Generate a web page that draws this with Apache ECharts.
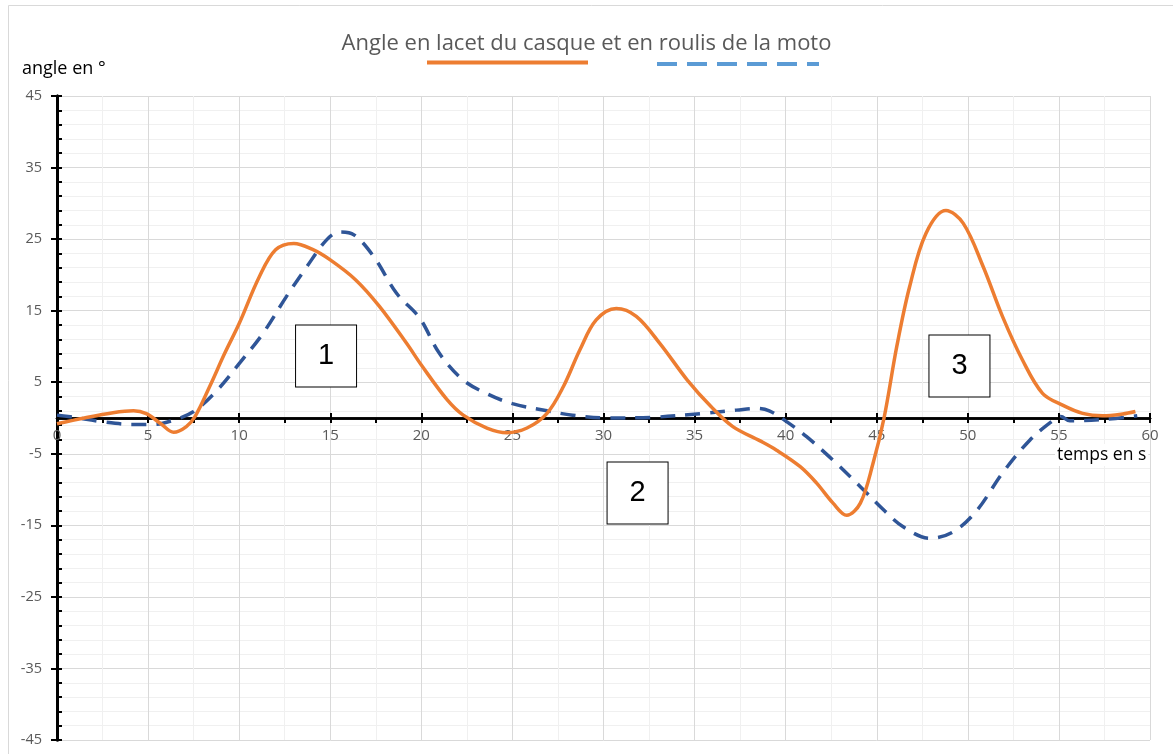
<!DOCTYPE html>
<html>
<head>
<meta charset="utf-8">
<script src="https://cdn.jsdelivr.net/npm/echarts@6/dist/echarts.min.js"></script>
<style>
html,body{margin:0;padding:0;background:#fff;}
#chart{width:1173px;height:754px;}
</style>
</head>
<body>
<div id="chart"></div>
<script>
// ---- data ----
const titleText = 'Angle en lacet du casque et en roulis de la moto';
const yAxisName = 'angle en °';
const xAxisName = 'temps en s';
const seriesNames = ['Lacet casque', 'Roulis moto'];

const lacetX = [0,1.5,3,4.2,4.9,5.7,6.4,7.1,7.6,8.4,9.2,10,11.1,12,13,14,15,16.4,17.7,19.2,20,21.4,22.3,23.6,24.7,25.8,26.9,27.8,28.7,29.6,30.7,31.8,33.1,34.6,35.9,37.1,38.6,39.5,40.8,41.7,42.6,43.35,44.1,44.8,45.4,46.1,46.8,47.7,48.8,49.75,50.85,51.9,53,54.1,55.2,56.3,57.4,58.5,59.2];
const lacetY = [-0.8,0,0.7,1.0,0.6,-0.8,-2.0,-1.2,0.3,4.5,9,13.2,19.7,23.5,24.4,23.6,22.1,19.3,15.6,10.4,7.4,2.6,0.4,-1.4,-2.05,-1.4,0.65,4.4,9.5,13.7,15.3,14.2,10.4,5.3,1.6,-1.2,-3.2,-4.5,-6.8,-9.1,-11.9,-13.6,-11.9,-6.3,0,10,18.3,25.8,29,27.2,21.1,14.2,8.1,3.45,1.8,0.65,0.3,0.55,0.9];

const roulisX = [0,1.2,2.4,4.2,5.3,6.4,7.5,8.8,10,11.3,12.6,13.7,14.8,15.5,16.3,17.4,18.65,19.9,21,22.3,23.6,25,26.9,28.3,30.2,32.7,35.5,37.3,38.4,39.1,40.05,41.15,42.6,44.1,45.4,46.45,47.9,49.2,50.5,51.9,53.4,54.7,55.1,55.6,57.5,59.3];
const roulisY = [0.4,0,-0.5,-0.9,-0.9,-0.3,0.9,3.9,7.6,11.8,17,21.1,24.9,26,25.6,22.5,17.4,14,9,5.3,3.4,2,1,0.4,0,0.1,0.65,1.1,1.35,1.0,-0.5,-2.6,-5.9,-9.6,-12.9,-15.2,-16.8,-15.9,-12.9,-7.7,-3.1,-0.3,0.2,-0.4,-0.2,0.3];

const boxLabels = ['1','2','3'];
const boxX = [14.77, 31.87, 49.54];
const boxY = [8.66, -10.48, 7.27];

const xMin = 0, xMax = 60, xStep = 5;
const yMin = -45, yMax = 45, yStep = 10;

// ---- build ----
const pair = (xs, ys) => xs.map((x, i) => [x, ys[i]]);
const chart = echarts.init(document.getElementById('chart'), null, {renderer: 'canvas'});
const font = 'Open Sans';
const gridTop = 96, gridBottom = 14, chartH = 754;
const plotH = chartH - gridTop - gridBottom;
// place the x axis on the value 0 of the y scale
const zeroOffset = -plotH * (0 - yMin) / (yMax - yMin);
const baseX = {
  type: 'value', min: xMin, max: xMax, interval: xStep, position: 'bottom',
  offset: zeroOffset,
  axisLine: {show: true, onZero: false, lineStyle: {color: '#000', width: 2.5}}
};
const baseY = {
  type: 'value', min: yMin, max: yMax, interval: yStep, position: 'left',
  axisLine: {show: true, onZero: false, lineStyle: {color: '#000', width: 3}}
};
const option = {
  animation: false,
  backgroundColor: '#fff',
  title: {
    text: titleText, left: 'center', top: 28,
    textStyle: {color: '#595959', fontSize: 22, fontWeight: 'normal', fontFamily: font}
  },
  grid: {left: 57, right: 23, top: gridTop, bottom: gridBottom, containLabel: false, outerBoundsMode: 'none'},
  xAxis: [
    Object.assign({}, baseX, {
      axisTick: {show: true, inside: false, length: 5, lineStyle: {color: '#000', width: 2}},
      minorTick: {show: true, splitNumber: 2, length: 5, lineStyle: {color: '#000', width: 2}},
      axisLabel: {show: true, color: '#595959', fontSize: 15, margin: 10, fontFamily: font},
      splitLine: {show: true, lineStyle: {color: '#D9D9D9', width: 1}},
      minorSplitLine: {show: true, lineStyle: {color: '#F0F0F0', width: 1}}
    }),
    Object.assign({}, baseX, {
      axisTick: {show: true, inside: true, length: 5, lineStyle: {color: '#000', width: 2}},
      axisLabel: {show: false}, splitLine: {show: false}
    })
  ],
  yAxis: [
    Object.assign({}, baseY, {
      axisTick: {show: true, inside: true, length: 5, lineStyle: {color: '#000', width: 2}},
      minorTick: {show: true, splitNumber: 5, length: 5, lineStyle: {color: '#000', width: 2}},
      axisLabel: {show: true, color: '#595959', fontSize: 14.5, margin: 15, fontFamily: font},
      splitLine: {show: true, lineStyle: {color: '#D9D9D9', width: 1}},
      minorSplitLine: {show: true, lineStyle: {color: '#F0F0F0', width: 1}}
    }),
    Object.assign({}, baseY, {
      axisTick: {show: true, inside: false, length: 6, lineStyle: {color: '#000', width: 2}},
      axisLabel: {show: false}, splitLine: {show: false}
    })
  ],
  series: [
    {
      name: seriesNames[0], type: 'line', smooth: 0.35, showSymbol: false,
      data: pair(lacetX, lacetY), z: 4,
      lineStyle: {color: '#ED7D31', width: 3.5}
    },
    {
      name: seriesNames[1], type: 'line', smooth: 0.35, showSymbol: false,
      data: pair(roulisX, roulisY), z: 3,
      lineStyle: {color: '#2F5597', width: 3.5, type: [15, 10]}
    },
    {
      type: 'scatter', symbol: 'rect', symbolSize: [61, 62], z: 5,
      data: boxLabels.map((t, i) => ({name: t, value: [boxX[i], boxY[i]]})),
      itemStyle: {color: '#fff', borderColor: '#000', borderWidth: 1, opacity: 1},
      label: {show: true, position: 'inside', formatter: p => p.name,
        color: '#000', fontSize: 29, fontFamily: 'Liberation Sans'}
    }
  ],
  graphic: [
    {type: 'rect', shape: {x: 8.5, y: 5.5, width: 1180, height: 760}, silent: true,
      style: {fill: 'none', stroke: '#D9D9D9', lineWidth: 1}, z: -10},
    {type: 'text', left: 22, top: 60,
      style: {text: yAxisName, fill: '#000', fontSize: 18, fontFamily: font}},
    {type: 'text', left: 1055, top: 444, z: 100,
      style: {text: xAxisName, fill: '#000', fontSize: 17.5, fontFamily: font,
        backgroundColor: '#fff', padding: [2, 2, 2, 2]}},
    {type: 'line', shape: {x1: 427, y1: 62.5, x2: 588, y2: 62.5},
      style: {stroke: '#ED7D31', lineWidth: 4}},
    {type: 'line', shape: {x1: 657, y1: 64, x2: 819, y2: 64},
      style: {stroke: '#5B9BD5', lineWidth: 4, lineDash: [20, 10]}}
  ]
};
chart.setOption(option);
</script>
</body>
</html>
